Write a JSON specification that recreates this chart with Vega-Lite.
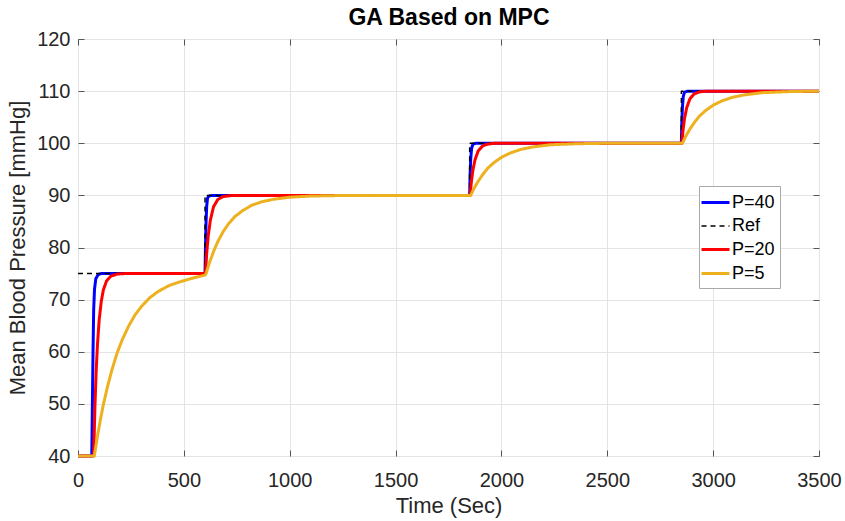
{
  "$schema": "https://vega.github.io/schema/vega-lite/v6.json",
  "width": 741,
  "height": 417,
  "autosize": {"type": "none"},
  "padding": {"left": 78, "top": 39, "right": 26, "bottom": 65},
  "background": "white",
  "config": {
    "view": {"stroke": "#555555", "strokeWidth": 1},
    "axis": {"labelFont": "Liberation Sans", "titleFont": "Liberation Sans", "labelColor": "#262626", "titleColor": "#262626", "titleFontWeight": "normal", "gridColor": "#e4e4e4", "gridWidth": 1, "tickColor": "#555555", "domain": false}
  },
  "data": {"values": [
    {"s": "P=40", "t": 0, "v": 40}, {"s": "P=40", "t": 65, "v": 40}, {"s": "P=40", "t": 68, "v": 50}, {"s": "P=40", "t": 71, "v": 60}, {"s": "P=40", "t": 74, "v": 68}, {"s": "P=40", "t": 78, "v": 72}, {"s": "P=40", "t": 84, "v": 74}, {"s": "P=40", "t": 95, "v": 74.8}, {"s": "P=40", "t": 110, "v": 75},
    {"s": "P=40", "t": 600, "v": 75}, {"s": "P=40", "t": 602, "v": 80}, {"s": "P=40", "t": 605, "v": 85}, {"s": "P=40", "t": 608, "v": 88}, {"s": "P=40", "t": 612, "v": 89.5}, {"s": "P=40", "t": 620, "v": 89.9}, {"s": "P=40", "t": 635, "v": 90},
    {"s": "P=40", "t": 1850, "v": 90}, {"s": "P=40", "t": 1852, "v": 94}, {"s": "P=40", "t": 1855, "v": 97}, {"s": "P=40", "t": 1859, "v": 99}, {"s": "P=40", "t": 1865, "v": 99.8}, {"s": "P=40", "t": 1880, "v": 100},
    {"s": "P=40", "t": 2850, "v": 100}, {"s": "P=40", "t": 2852, "v": 104}, {"s": "P=40", "t": 2855, "v": 107}, {"s": "P=40", "t": 2859, "v": 109}, {"s": "P=40", "t": 2865, "v": 109.8}, {"s": "P=40", "t": 2880, "v": 110}, {"s": "P=40", "t": 3500, "v": 110},
    {"s": "Ref", "t": 0, "v": 75}, {"s": "Ref", "t": 600, "v": 75}, {"s": "Ref", "t": 600, "v": 90}, {"s": "Ref", "t": 1850, "v": 90}, {"s": "Ref", "t": 1850, "v": 100}, {"s": "Ref", "t": 2850, "v": 100}, {"s": "Ref", "t": 2850, "v": 110}, {"s": "Ref", "t": 3500, "v": 110},
    {"s": "P=20", "t": 0, "v": 40}, {"s": "P=20", "t": 74, "v": 40}, {"s": "P=20", "t": 80, "v": 49.5}, {"s": "P=20", "t": 86, "v": 56.4}, {"s": "P=20", "t": 92, "v": 61.4}, {"s": "P=20", "t": 100, "v": 66.1}, {"s": "P=20", "t": 110, "v": 69.7}, {"s": "P=20", "t": 120, "v": 71.9}, {"s": "P=20", "t": 135, "v": 73.6}, {"s": "P=20", "t": 155, "v": 74.5}, {"s": "P=20", "t": 185, "v": 74.9}, {"s": "P=20", "t": 220, "v": 75},
    {"s": "P=20", "t": 602, "v": 75}, {"s": "P=20", "t": 608, "v": 78.9}, {"s": "P=20", "t": 615, "v": 82.2}, {"s": "P=20", "t": 625, "v": 85.2}, {"s": "P=20", "t": 640, "v": 87.8}, {"s": "P=20", "t": 660, "v": 89.2}, {"s": "P=20", "t": 685, "v": 89.76}, {"s": "P=20", "t": 720, "v": 89.95}, {"s": "P=20", "t": 760, "v": 90},
    {"s": "P=20", "t": 1852, "v": 90}, {"s": "P=20", "t": 1858, "v": 92.6}, {"s": "P=20", "t": 1865, "v": 94.8}, {"s": "P=20", "t": 1875, "v": 96.8}, {"s": "P=20", "t": 1890, "v": 98.5}, {"s": "P=20", "t": 1910, "v": 99.45}, {"s": "P=20", "t": 1935, "v": 99.84}, {"s": "P=20", "t": 1970, "v": 100},
    {"s": "P=20", "t": 2852, "v": 100}, {"s": "P=20", "t": 2858, "v": 102.6}, {"s": "P=20", "t": 2865, "v": 104.8}, {"s": "P=20", "t": 2875, "v": 106.8}, {"s": "P=20", "t": 2890, "v": 108.5}, {"s": "P=20", "t": 2910, "v": 109.45}, {"s": "P=20", "t": 2935, "v": 109.84}, {"s": "P=20", "t": 2970, "v": 110}, {"s": "P=20", "t": 3500, "v": 110},
    {"s": "P=5", "t": 0, "v": 40}, {"s": "P=5", "t": 77, "v": 40}, {"s": "P=5", "t": 90, "v": 43.3}, {"s": "P=5", "t": 105, "v": 46.8}, {"s": "P=5", "t": 120, "v": 49.9}, {"s": "P=5", "t": 140, "v": 53.4}, {"s": "P=5", "t": 160, "v": 56.5}, {"s": "P=5", "t": 185, "v": 59.8}, {"s": "P=5", "t": 210, "v": 62.4}, {"s": "P=5", "t": 240, "v": 65.0}, {"s": "P=5", "t": 270, "v": 67.1}, {"s": "P=5", "t": 300, "v": 68.7}, {"s": "P=5", "t": 340, "v": 70.4}, {"s": "P=5", "t": 380, "v": 71.6}, {"s": "P=5", "t": 430, "v": 72.7}, {"s": "P=5", "t": 480, "v": 73.4}, {"s": "P=5", "t": 540, "v": 74.1}, {"s": "P=5", "t": 600, "v": 74.7},
    {"s": "P=5", "t": 605, "v": 75}, {"s": "P=5", "t": 620, "v": 77.0}, {"s": "P=5", "t": 640, "v": 79.2}, {"s": "P=5", "t": 660, "v": 81.1}, {"s": "P=5", "t": 685, "v": 83.0}, {"s": "P=5", "t": 710, "v": 84.5}, {"s": "P=5", "t": 740, "v": 85.9}, {"s": "P=5", "t": 775, "v": 87.0}, {"s": "P=5", "t": 820, "v": 88.1}, {"s": "P=5", "t": 870, "v": 88.8}, {"s": "P=5", "t": 930, "v": 89.3}, {"s": "P=5", "t": 1000, "v": 89.65}, {"s": "P=5", "t": 1100, "v": 89.87}, {"s": "P=5", "t": 1250, "v": 89.98}, {"s": "P=5", "t": 1400, "v": 90},
    {"s": "P=5", "t": 1855, "v": 90}, {"s": "P=5", "t": 1870, "v": 91.3}, {"s": "P=5", "t": 1890, "v": 92.7}, {"s": "P=5", "t": 1910, "v": 93.9}, {"s": "P=5", "t": 1935, "v": 95.2}, {"s": "P=5", "t": 1965, "v": 96.3}, {"s": "P=5", "t": 2000, "v": 97.3}, {"s": "P=5", "t": 2040, "v": 98.1}, {"s": "P=5", "t": 2090, "v": 98.8}, {"s": "P=5", "t": 2150, "v": 99.3}, {"s": "P=5", "t": 2230, "v": 99.7}, {"s": "P=5", "t": 2350, "v": 99.9}, {"s": "P=5", "t": 2500, "v": 100},
    {"s": "P=5", "t": 2855, "v": 100}, {"s": "P=5", "t": 2870, "v": 101.3}, {"s": "P=5", "t": 2890, "v": 102.7}, {"s": "P=5", "t": 2910, "v": 103.9}, {"s": "P=5", "t": 2935, "v": 105.2}, {"s": "P=5", "t": 2965, "v": 106.3}, {"s": "P=5", "t": 3000, "v": 107.3}, {"s": "P=5", "t": 3040, "v": 108.1}, {"s": "P=5", "t": 3090, "v": 108.8}, {"s": "P=5", "t": 3150, "v": 109.3}, {"s": "P=5", "t": 3230, "v": 109.7}, {"s": "P=5", "t": 3350, "v": 109.9}, {"s": "P=5", "t": 3500, "v": 110}
  ]},
  "layer": [
    {
      "mark": {"type": "point", "opacity": 0},
      "encoding": {
        "x": {"field": "t", "type": "quantitative", "scale": {"domain": [0, 3500], "nice": false}, "axis": {"orient": "top", "values": [0, 500, 1000, 1500, 2000, 2500, 3000, 3500], "labels": false, "grid": false, "title": "GA Based on MPC", "titleFontSize": 23, "titleFontWeight": "bold", "titleColor": "#000000", "titlePadding": 9, "tickSize": -6}},
        "y": {"field": "v", "type": "quantitative", "scale": {"domain": [40, 120], "nice": false, "zero": false}, "axis": {"orient": "right", "values": [40, 50, 60, 70, 80, 90, 100, 110, 120], "labels": false, "grid": false, "title": null, "tickSize": -6}}
      }
    },
    {
      "mark": {"type": "line", "clip": false, "strokeJoin": "round"},
      "encoding": {
        "x": {"field": "t", "type": "quantitative", "scale": {"domain": [0, 3500], "nice": false}, "axis": {"orient": "bottom", "values": [0, 500, 1000, 1500, 2000, 2500, 3000, 3500], "format": "d", "grid": true, "title": "Time (Sec)", "titleFontSize": 22, "titlePadding": 5, "labelFontSize": 20, "labelPadding": 20, "tickSize": -6, "labelFlush": false}},
        "y": {"field": "v", "type": "quantitative", "scale": {"domain": [40, 120], "nice": false, "zero": false}, "axis": {"orient": "left", "values": [40, 50, 60, 70, 80, 90, 100, 110, 120], "grid": true, "title": "Mean Blood Pressure [mmHg]", "titleFontSize": 22, "titlePadding": 7, "labelFontSize": 20, "labelPadding": 14, "tickSize": -6, "labelFlush": false}},
        "color": {"field": "s", "type": "nominal", "scale": {"domain": ["P=40", "Ref", "P=20", "P=5"], "range": ["#0000ff", "#000000", "#ff0000", "#edb120"]},
          "legend": {"orient": "none", "legendX": 621, "legendY": 147, "title": null, "fillColor": "#ffffff", "strokeColor": "#aaaaaa", "padding": 5, "labelFont": "Liberation Sans", "labelFontSize": 18, "labelColor": "#000000", "labelOffset": 5, "symbolType": "M-1.4,0H1.4", "symbolSize": 400, "rowPadding": 3}},
        "strokeDash": {"field": "s", "type": "nominal", "scale": {"domain": ["P=40", "Ref", "P=20", "P=5"], "range": [[1, 0], [5, 4], [1, 0], [1, 0]]}},
        "strokeWidth": {"field": "s", "type": "nominal", "scale": {"type": "ordinal", "domain": ["P=40", "Ref", "P=20", "P=5"], "range": [3, 1.5, 3, 3]}},
        "order": {"value": null}
      }
    }
  ],
  "resolve": {"axis": {"x": "independent", "y": "independent"}}
}
